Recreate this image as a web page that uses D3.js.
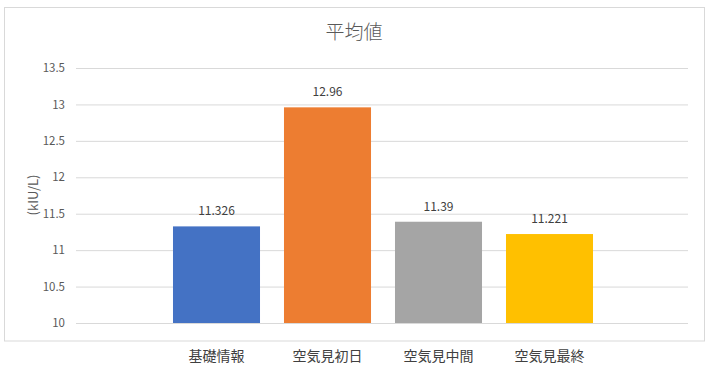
<!DOCTYPE html>
<html><head><meta charset="utf-8">
<script src="https://cdn.jsdelivr.net/npm/d3@7"></script>
<style>body{margin:0;background:#fff;}svg{display:block;}text{font-family:"Noto Sans CJK JP","Noto Sans",sans-serif;}</style>
</head><body>
<script>
const categories = ["基礎情報","空気見初日","空気見中間","空気見最終"];
const values = [11.326, 12.96, 11.39, 11.221];
const labels = ["11.326","12.96","11.39","11.221"];
const colors = ["#4472C4","#ED7D31","#A5A5A5","#FFC000"];
const yTicks = [10,10.5,11,11.5,12,12.5,13,13.5];
const title = "平均値";
const yTitle = "(kIU/L)";

const W=709,H=369;
const svg=d3.select("body").append("svg").attr("width",W).attr("height",H);
svg.append("rect").attr("x",4.5).attr("y",7.5).attr("width",700).attr("height",333.5)
  .attr("fill","#fff").attr("stroke","#D9D9D9").attr("stroke-width",1);

const y=d3.scaleLinear().domain([10,13.5]).range([323,68]);
const x=d3.scaleBand().domain(categories).range([161,605]).paddingInner(0.216).paddingOuter(0.108);

svg.append("text").attr("x",354).attr("y",39).attr("text-anchor","middle")
  .attr("font-size",19).attr("font-weight",300).attr("fill","#595959").text(title);

const gy=svg.append("g").attr("transform","translate(76,0)")
  .call(d3.axisLeft(y).tickValues(yTicks).tickSize(-612).tickFormat(d=>String(d)));
gy.select(".domain").remove();
gy.selectAll(".tick line").attr("stroke","#D9D9D9").attr("stroke-width",1);
gy.selectAll(".tick text").attr("x",-11).attr("fill","#595959").attr("font-size",11.5)
  .attr("font-family","'Noto Sans','Liberation Sans',sans-serif");

svg.append("text").attr("transform","translate(38,195) rotate(-90)").attr("text-anchor","middle")
  .attr("font-size",13).attr("fill","#595959").attr("font-family","'Noto Sans',sans-serif").text(yTitle);

svg.selectAll(".bar").data(values).enter().append("rect")
  .attr("x",(d,i)=>x(categories[i])).attr("width",x.bandwidth())
  .attr("y",d=>y(d)).attr("height",d=>y(10)-y(d)).attr("fill",(d,i)=>colors[i]);

svg.selectAll(".lbl").data(values).enter().append("text")
  .attr("x",(d,i)=>x(categories[i])+x.bandwidth()/2).attr("y",d=>y(d)-11)
  .attr("text-anchor","middle").attr("font-size",12).attr("fill","#404040")
  .attr("font-family","'Noto Sans',sans-serif").text((d,i)=>labels[i]);

const gx=svg.append("g").attr("transform","translate(0,323)")
  .call(d3.axisBottom(x).tickSize(0));
gx.select(".domain").remove();
svg.append("line").attr("x1",76).attr("x2",688).attr("y1",323.5).attr("y2",323.5).attr("stroke","#D9D9D9");
gx.selectAll(".tick text").attr("y",28).attr("font-size",14).attr("fill","#404040")
  .attr("font-family","'Noto Sans CJK JP',sans-serif");
</script>
</body></html>
